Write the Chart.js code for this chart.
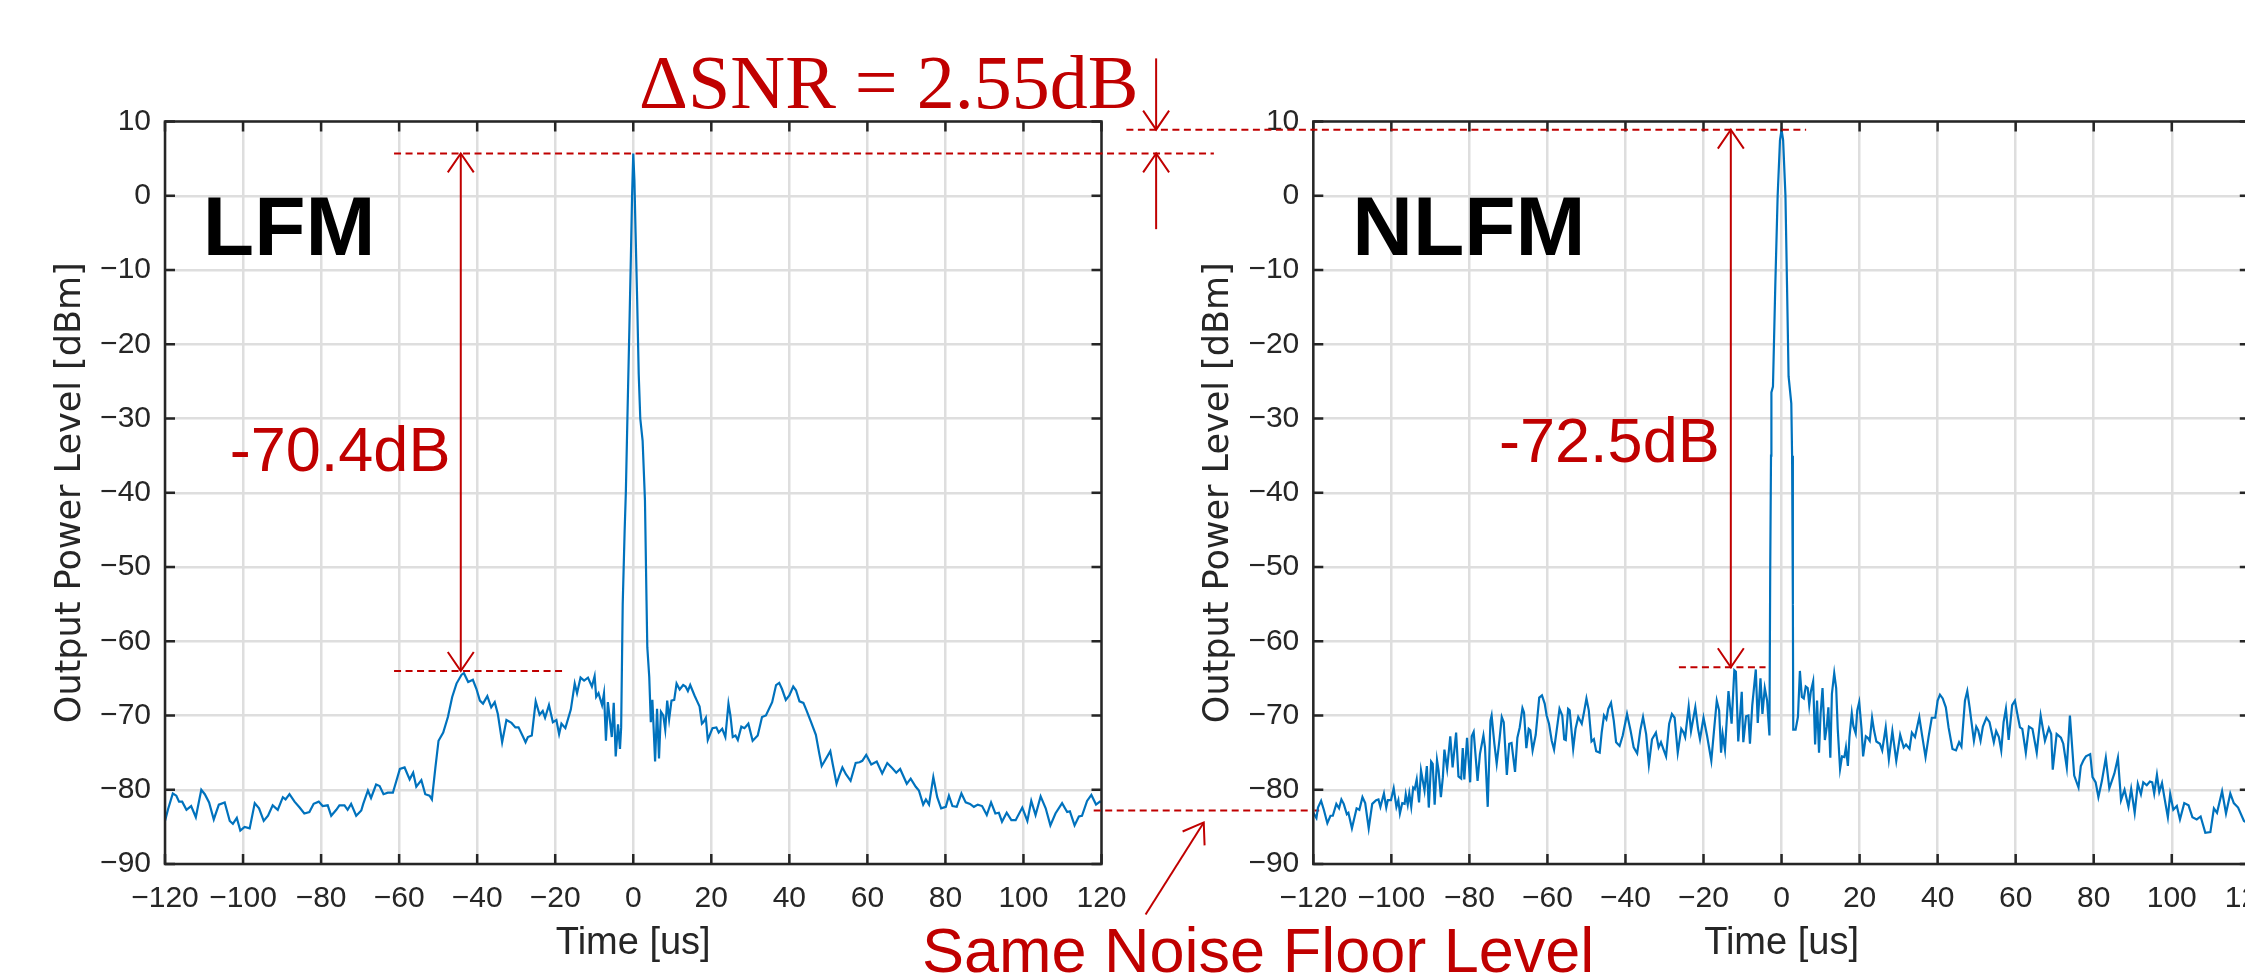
<!DOCTYPE html>
<html>
<head>
<meta charset="utf-8">
<script src="https://cdn.jsdelivr.net/npm/chart.js@4.4.1/dist/chart.umd.min.js"></script>
<style>
  html, body { margin: 0; padding: 0; background: #fff; overflow: hidden; }
  #wrap { position: relative; width: 2245px; height: 979px; overflow: hidden; }
  #wrap canvas { position: absolute; left: 0; top: 0; }
</style>
</head>
<body>
<div id="wrap">
  <canvas id="lfm" width="2245" height="979"></canvas>
  <canvas id="nlfm" width="2400" height="979"></canvas>
</div>
<script>
// axis ticks
const xTicks = [-120, -100, -80, -60, -40, -20, 0, 20, 40, 60, 80, 100, 120];
const yTicks = [-90, -80, -70, -60, -50, -40, -30, -20, -10, 0, 10];

// LFM trace
const lfmTime = [
  -120, -119.2, -118, -117.1, -116.4, -115.6, -114.5, -113.3, -112.1, -110.7, -109.8, -108.7, -107.5, -106.2,
  -104.7, -103.4, -102.6, -101.6, -100.7, -99.6, -98.3, -97, -95.9, -94.7, -93.6, -92.4, -91.1, -89.8, -89.1,
  -88.1, -86.8, -85.5, -84.3, -83, -81.9, -80.6, -79.6, -78.3, -77.4, -76.1, -75.3, -74, -73.2, -72.3, -71,
  -69.7, -69.2, -68, -67.2, -65.9, -65, -64, -62.9, -61.6, -59.8, -58.6, -57.3, -56.4, -55.6, -54.3, -53.3,
  -52.2, -51.6, -50.7, -49.9, -48.7, -47.5, -46.4, -45.3, -44, -43.4, -42.3, -41.1, -40.2, -39.3, -38.5, -37.4,
  -36.4, -35.5, -34.7, -33.6, -32.5, -31.2, -30.2, -29.4, -28.3, -27.6, -27, -26, -25, -24, -23.2, -22.6, -21.6,
  -20.6, -19.7, -19, -18.4, -17.4, -16, -15, -14.4, -13.5, -12.6, -11.6, -10.6, -9.9, -9.5, -8.9, -8, -7.5, -7,
  -6.5, -5.5, -5, -4.5, -3.9, -3.4, -3.1, -2.7, -2.2, -1.9, -1.5, -1, -0.6, -0.3, 0, 0.3, 0.6, 1, 1.4, 1.8, 2.4,
  3, 3.4, 3.6, 4.1, 4.5, 4.9, 5.6, 6.1, 6.6, 7.1, 7.7, 8.2, 8.7, 9.2, 9.8, 10.5, 11.1, 11.9, 12.8, 13.4, 14,
  14.6, 15.7, 16.3, 17, 17.6, 18, 18.6, 19.1, 20.3, 21.3, 21.9, 22.8, 23.6, 24.4, 24.9, 25.5, 26.2, 26.8, 27.7,
  28.5, 29.5, 30.6, 31.9, 33, 34, 35.6, 36.6, 37.4, 38.1, 39.1, 40, 41, 41.7, 42.6, 43.6, 44.4, 45.5, 46.8,
  47.7, 48.3, 49.2, 50.5, 51.1, 52.1, 52.8, 53.6, 54.5, 55.7, 57, 58, 58.7, 59.7, 61, 62.4, 63.8, 65.1, 66.4,
  67.4, 68.4, 70.1, 71.1, 72.4, 73.2, 74.3, 75, 75.8, 76.9, 77.9, 78.9, 80.1, 80.9, 81.8, 82.9, 84.1, 85.2,
  86.3, 87.3, 88.3, 89.4, 90.6, 91.7, 92.8, 93.7, 94.5, 95.7, 96.9, 98, 99.7, 101, 102, 103.1, 104.4, 105.7,
  106.9, 108.2, 109.9, 111.2, 111.9, 113.1, 114.2, 115, 116.3, 117.4, 118.6, 119.6, 120
];
const lfmLevel = [
  -84.2, -82.6, -80.5, -80.8, -81.6, -81.6, -82.7, -82.2, -83.7, -80, -80.6, -81.7, -84, -82,
  -81.7, -84.2, -84.6, -83.8, -85.5, -85, -85.2, -81.8, -82.5, -84.2, -83.5, -82.1, -82.7, -81, -81.3,
  -80.6, -81.6, -82.4, -83.2, -83, -81.9, -81.6, -82.2, -82.1, -83.5, -82.7, -82.1, -82.1, -82.7, -81.9, -83.5,
  -82.8, -81.9, -80.1, -81.1, -79.3, -79.5, -80.6, -80.4, -80.4, -77.2, -77, -78.6, -77.7, -79.6, -78.7, -80.6,
  -80.8, -81.3, -77, -73.4, -72.3, -70.2, -67.5, -65.7, -64.5, -64.3, -65.5, -65.2, -66.4, -68, -68.4, -67.4,
  -68.9, -68.2, -69.8, -73.6, -70.6, -71, -71.6, -71.6, -72.8, -73.6, -72.9, -72.7, -68.1, -69.9, -69.4, -70.3, -68.6,
  -70.9, -70.6, -72.5, -71.1, -71.7, -69.2, -65.7, -67, -64.9, -65.3, -64.9, -66.1, -64.7, -67.5, -67, -68.6, -67, -73.4,
  -68.2, -72.9, -68.3, -75.5, -71.2, -74.5, -71.6, -55, -45, -40, -30, -18, -8, 0, 5.7, 2, -5, -14, -24, -30, -33,
  -41, -54.5, -60.8, -64.8, -70.9, -67.9, -76.2, -69.1, -75.8, -69.5, -70, -71.9, -68, -70.5, -68, -67.9, -65.7, -66.5, -65.9, -66.1, -66.7,
  -65.9, -67.3, -68, -68.8, -71.1, -70.9, -70.3, -73.3, -71.7, -71.6, -72.3, -71.8, -72.9, -68.4, -70, -72.9, -72.7, -73.3, -71.5,
  -71.7, -71.1, -73.4, -72.7, -70.2, -70, -68.2, -65.9, -65.6, -66.4, -67.9, -67.3, -66.1, -66.6, -68.1, -68.3, -69.3, -70.8, -72.6,
  -75.2, -76.8, -76, -74.8, -76.5, -79.2, -78.1, -77, -77.9, -78.8, -76.4, -76.3, -76.1, -75.3, -76.6, -76.2, -77.8, -76.4, -77.1,
  -77.7, -77.2, -79.2, -78.5, -79.6, -80.1, -82, -81.3, -82, -78.3, -81, -82.5, -82.3, -80.8, -82.2, -82.3, -80.5, -81.7,
  -81.9, -82.3, -82, -82.2, -83.4, -81.7, -83.2, -83.1, -84.3, -83.1, -84.1, -84.1, -82.4, -84.2, -81.5, -83.4, -80.9, -82.5,
  -84.8, -83.2, -81.8, -83, -82.9, -84.8, -83.6, -83.5, -81.5, -80.7, -82, -81.6, -81.7
];

// NLFM trace
const nlfmTime = [
  -120, -119.2, -118.8, -118, -117.3, -116.4, -115.6, -115, -114.1, -113.4, -112.8, -112.2, -111.4, -111, -110.1,
  -108.9, -108.2, -107.4, -106.7, -105.8, -104.9, -103.9, -103.3, -102.8, -101.9, -101.3, -100.9, -100.1, -99.4,
  -98.7, -98.2, -97.8, -97.2, -96.6, -96.3, -95.8, -95.4, -94.9, -94.4, -94, -93.5, -92.9, -92.4, -91.5, -90.9,
  -90.4, -89.8, -89.4, -88.9, -88.3, -87.9, -87.3, -86.8, -86.4, -85.7, -84.9, -84.3, -83.4, -82.8, -82.1, -81.7,
  -81.3, -80.6, -79.8, -79.4, -78.9, -77.9, -77.3, -76.4, -76, -75.3, -74.6, -74.3, -73.6, -73, -72.3, -71.7,
  -71.2, -70.4, -69.8, -69.2, -68.3, -67.7, -67.1, -66.4, -66, -65.4, -64.8, -64.4, -63.8, -63, -62.1, -61.4,
  -60.7, -60.2, -59.6, -58.9, -58.3, -57.4, -56.9, -56.2, -55.7, -55.3, -54.7, -54.3, -53.4, -52.8, -52.1, -51.2,
  -50.6, -50, -49.4, -48.7, -48.1, -47.5, -46.6, -46.1, -45.5, -44.9, -44.4, -43.7, -43, -42.4, -41.5, -40.7,
  -39.6, -38.7, -37.9, -37, -36.2, -35.5, -34.7, -34, -33.2, -32.2, -31.5, -30.9, -30.3, -29.6, -28.8, -28.1,
  -27.4, -26.6, -25.7, -25.1, -24.7, -23.8, -23.2, -22.1, -21.4, -20.9, -20, -19.1, -18, -17.2, -16.6, -16,
  -15.5, -15.1, -14.5, -13.6, -12.8, -12.1, -11.7, -11.1, -10.2, -9.8, -9.1, -8.5, -8.1, -7.5, -6.6, -6.1,
  -5.4, -4.9, -4.3, -3.7, -3.1, -2.9, -2.7, -2.6, -2.2, -1.6, -1, -0.4, 0, 0.4, 1, 1.4, 1.8, 2.5, 2.7, 2.9, 3,
  3.6, 4.2, 4.7, 5.2, 5.7, 6.2, 6.7, 7.1, 7.5, 8.1, 8.6, 9.1, 9.6, 10, 10.5, 11.1, 11.6, 12, 12.5, 12.9, 13.5,
  14, 14.4, 15, 15.5, 16.1, 16.5, 17, 17.4, 18, 18.4, 19, 19.4, 19.9, 20.5, 20.9, 21.6, 22.1, 22.6, 23.2, 23.7,
  24.3, 25.2, 25.8, 26.7, 27.5, 28.4, 29.4, 30.4, 31.3, 31.9, 32.8, 33.4, 34.2, 35.3, 36, 36.9, 37.7, 38.5,
  39.4, 40, 40.6, 41.3, 42.1, 42.8, 43.8, 44.7, 45.5, 46.1, 47, 47.6, 48.2, 48.9, 49.3, 49.9, 50.4, 51, 51.6,
  52.5, 53.3, 54.4, 55, 55.7, 56.3, 56.9, 57.5, 58.2, 59.1, 59.8, 60.5, 61.1, 61.7, 62.6, 63.4, 64.3, 65.4,
  66.4, 67.5, 68.5, 69.1, 69.5, 70.5, 71.6, 72.2, 73.1, 73.9, 75, 76.1, 76.7, 77.4, 78, 79.1, 79.7, 80.5, 81.2,
  82.1, 83.1, 84, 85.3, 86.2, 87, 87.9, 88.9, 89.6, 90.5, 91.3, 92.1, 92.7, 93.6, 94.4, 95, 95.5, 96.2, 96.8,
  97.5, 98.1, 99, 99.6, 100.4, 101.3, 102.1, 103.2, 104.3, 105.3, 106.4, 107.4, 108.6, 109.9, 110.8, 111.6,
  112.9, 113.9, 115, 115.9, 117, 118.5, 119.5, 120
];
const nlfmLevel = [
  -83.1, -83.8, -82.4, -81.5, -82.7, -84.5, -83.5, -83.5, -81.9, -82.5, -81.3, -81.9, -83.3, -83.1, -85.2,
  -82.5, -82.7, -81, -81.8, -85.2, -81.9, -81.4, -81.3, -82.3, -80.5, -82.4, -81.4, -81.4, -79.8,
  -82.3, -81.4, -83.2, -81.8, -81.9, -80.6, -82, -80.5, -82.3, -79.7, -79.9, -78.6, -81.7, -77.4, -80.1, -76.8,
  -82.4, -76.2, -76.5, -82, -76, -77.4, -81, -78.3, -74.6, -77.2, -72.8, -77, -72.3, -78.2, -78.5, -74.4,
  -78.6, -73, -79, -72.8, -72.2, -78.8, -75.2, -72.7, -74.3, -82.3, -70.7, -70, -73.8, -76.5, -73.3, -70.2,
  -70.9, -78, -73.8, -73.7, -77.6, -73, -71.6, -69, -69.6, -74.4, -71.8, -72, -74.7, -72.6, -67.6, -67.3,
  -68.4, -70, -71.1, -73.4, -74.6, -71.1, -69.1, -70, -73.2, -73.3, -69.1, -69.3, -74.5, -71.8, -70.2, -71.1,
  -69.5, -67.7, -69.3, -73.5, -73.2, -74.8, -75, -72.3, -70, -70.5, -69.1, -68.3, -70.7, -73.6, -74.1, -72.7,
  -69.8, -72, -74.3, -75.1, -72, -70.2, -72.5, -76.6, -73.2, -72.3, -74.3, -73.6, -74.5, -75.5, -71.1, -69.8,
  -70.3, -75, -71.8, -72.3, -72.9, -68.8, -72.1, -68.9, -71.8, -73.2, -70.3, -72.7, -76.1, -71.4, -68, -69.3,
  -75, -72.5, -74.6, -66.7, -71.1, -63.9, -64.1, -73.5, -66.8, -73.6, -70.1, -70, -73.8, -68.6, -63.8, -71,
  -65, -69.8, -66.3, -68, -72.7, -50, -35, -26.5, -25.7, -12, 0, 7.5, 8.9, 7.5, 0, -12, -24.3, -28, -35, -55, -71.9,
  -71.9, -70.2, -64, -67.5, -67.7, -66.1, -66.3, -68.6, -66.8, -65.4, -73.9, -68, -75, -69.8, -66.3, -73.3, -71.5, -68.9, -75.7, -67.1, -64.3,
  -66.3, -71.8, -77.2, -75.5, -75.6, -74.3, -76.8, -72.9, -69.7, -71.4, -72.4, -69.3, -68.2, -71.8, -75.5, -72.8, -73, -73.4, -70.3, -72,
  -73.5, -73.8, -74.7, -71.6, -75.9, -72.1, -76.1, -72.6, -74.3, -73.9, -74.5, -72.3, -72.9, -70.2, -72.6, -75.6, -72.8, -70.3,
  -70.3, -68, -67.2, -67.7, -68.9, -71.6, -74.5, -74.7, -73.6, -74.2, -68, -66.7, -68.9, -71.8, -73.4, -71.5, -72, -73.4, -71.5,
  -70.3, -70.9, -73.6, -72.1, -72.9, -74.7, -70.9, -69.1, -73.3, -68.6, -68, -70, -71.6, -71.8, -75, -71.5, -71.8, -75,
  -70, -73.4, -71.7, -72.5, -77.3, -72.5, -73, -73.8, -77, -70, -78.1, -79.7, -76.8, -76, -75.5, -75.2, -78.3, -79, -81,
  -78.8, -75.7, -79.8, -77.8, -75.7, -81.4, -80, -82.3, -79.9, -83.1, -79.2, -80.6, -79, -79.4, -78.9, -79, -80.5, -78, -80.3,
  -79.1, -81, -83.7, -80.6, -82.7, -82.2, -84, -81.8, -82.1, -83.7, -84, -83.6, -85.8, -85.7, -82.5, -83.1,
  -80.2, -83.2, -80.5, -81.8, -82.4, -84.2, -84.5, -84
];

// levels marked by the red guides
const lfmPeak = 5.7, lfmSidelobe = -64.0;
const nlfmPeak = 8.9, nlfmSidelobe = -63.5;
const noiseFloor = -82.8;

const RED = '#C00000';
const BLUE = '#0072BD';
const INK = '#262626';
const GRID = '#dedede';
const SANS = '"Liberation Sans", Arial, Helvetica, sans-serif';

const fmtTick = v => (v < 0 ? '\u2212' + Math.abs(v) : String(v));

// box with inward tick marks, like the original plot
function drawFrame(chart) {
    const { ctx, chartArea: a, scales: { x, y } } = chart;
    ctx.save();
    ctx.strokeStyle = INK;
    ctx.lineWidth = 2.5;
    ctx.strokeRect(a.left, a.top, a.right - a.left, a.bottom - a.top);
    ctx.beginPath();
    xTicks.forEach(v => {
        const px = x.getPixelForValue(v);
        ctx.moveTo(px, a.bottom); ctx.lineTo(px, a.bottom - 10);
        ctx.moveTo(px, a.top); ctx.lineTo(px, a.top + 10);
    });
    yTicks.forEach(v => {
        const py = y.getPixelForValue(v);
        ctx.moveTo(a.left, py); ctx.lineTo(a.left + 10, py);
        ctx.moveTo(a.right, py); ctx.lineTo(a.right - 10, py);
    });
    ctx.stroke();
    ctx.restore();
}

function arrowHead(ctx, tx, ty, fx, fy) {
    const ang = Math.atan2(ty - fy, tx - fx), len = 23, spread = 0.6;
    ctx.beginPath();
    ctx.moveTo(tx - len * Math.cos(ang - spread), ty - len * Math.sin(ang - spread));
    ctx.lineTo(tx, ty);
    ctx.lineTo(tx - len * Math.cos(ang + spread), ty - len * Math.sin(ang + spread));
    ctx.stroke();
}

function arrow(ctx, x1, y1, x2, y2, both) {
    ctx.beginPath();
    ctx.moveTo(x1, y1);
    ctx.lineTo(x2, y2);
    ctx.stroke();
    arrowHead(ctx, x2, y2, x1, y1);
    if (both) arrowHead(ctx, x1, y1, x2, y2);
}

function dashed(ctx, x1, x2, y) {
    ctx.save();
    ctx.setLineDash([7, 4.5]);
    ctx.lineWidth = 2;
    ctx.beginPath();
    ctx.moveTo(x1, y);
    ctx.lineTo(x2, y);
    ctx.stroke();
    ctx.restore();
}

function label(ctx, text, px, py, font, color) {
    ctx.save();
    ctx.font = font;
    ctx.fillStyle = color;
    ctx.textAlign = 'left';
    ctx.textBaseline = 'alphabetic';
    ctx.fillText(text, px, py);
    ctx.restore();
}

// notes are placed in data units of the chart they belong to
function lfmNotes(chart) {
    const { ctx, scales: { x, y } } = chart;
    const X = v => x.getPixelForValue(v), Y = v => y.getPixelForValue(v);
    ctx.save();
    ctx.strokeStyle = RED;
    dashed(ctx, X(-61.3), X(148.8), Y(lfmPeak));
    dashed(ctx, X(-61.3), X(-17.7), Y(lfmSidelobe));
    dashed(ctx, X(118), X(176.1), Y(noiseFloor));
    ctx.lineWidth = 2;
    arrow(ctx, X(-44.2), Y(lfmSidelobe), X(-44.2), Y(lfmPeak), true);
    arrow(ctx, X(134), Y(18.5), X(134), Y(nlfmPeak), false);
    arrow(ctx, X(134), Y(-4.5), X(134), Y(lfmPeak), false);
    arrow(ctx, X(131.3), Y(-96.8), X(146.2), Y(-84.4), false);
    ctx.restore();
    label(ctx, 'LFM', X(-110.3), Y(-8), 'bold 84px ' + SANS, '#000');
    label(ctx, '-70.4dB', X(-103.4), Y(-37.1), '63px ' + SANS, RED);
    label(ctx, '\u0394SNR = 2.55dB', X(1.5), Y(11.8), '76px "Liberation Serif", "Times New Roman", serif', RED);
    label(ctx, 'Same Noise Floor Level', X(74), Y(-104.6), '63px ' + SANS, RED);
}

function nlfmNotes(chart) {
    const { ctx, scales: { x, y } } = chart;
    const X = v => x.getPixelForValue(v), Y = v => y.getPixelForValue(v);
    ctx.save();
    ctx.strokeStyle = RED;
    dashed(ctx, X(-167.9), X(6.3), Y(nlfmPeak));
    dashed(ctx, X(-26.3), X(-4.1), Y(nlfmSidelobe));
    ctx.lineWidth = 2;
    arrow(ctx, X(-13), Y(nlfmSidelobe), X(-13), Y(nlfmPeak), true);
    ctx.restore();
    label(ctx, 'NLFM', X(-110), Y(-8), 'bold 84px ' + SANS, '#000');
    label(ctx, '-72.5dB', X(-72.4), Y(-35.8), '63px ' + SANS, RED);
}

function makeChart(canvasId, time, level, pad, notes) {
    const ctx = document.getElementById(canvasId).getContext('2d');
    return new Chart(ctx, {
        type: 'line',
        data: {
            datasets: [{
                data: time.map((t, i) => ({ x: t, y: level[i] })),
                borderColor: BLUE,
                borderWidth: 2.2,
                pointRadius: 0,
                tension: 0,
                fill: false
            }]
        },
        options: {
            responsive: false,
            animation: false,
            devicePixelRatio: 1,
            layout: { padding: pad },
            scales: {
                x: {
                    type: 'linear',
                    min: -120,
                    max: 120,
                    afterBuildTicks: s => { s.ticks = xTicks.map(v => ({ value: v })); },
                    afterFit: s => { s.height = 115; },
                    ticks: {
                        callback: fmtTick,
                        autoSkip: false,
                        maxRotation: 0,
                        minRotation: 0,
                        padding: 17,
                        color: INK,
                        font: { family: SANS, size: 30 }
                    },
                    grid: { color: GRID, lineWidth: 2.5, drawTicks: false },
                    border: { display: false },
                    title: {
                        display: true,
                        text: 'Time [us]',
                        color: INK,
                        font: { family: SANS, size: 38 },
                        padding: { top: 0, bottom: 13 }
                    }
                },
                y: {
                    type: 'linear',
                    min: -90,
                    max: 10,
                    afterBuildTicks: s => { s.ticks = yTicks.map(v => ({ value: v })); },
                    afterFit: s => { s.width = 165; },
                    ticks: {
                        callback: fmtTick,
                        autoSkip: false,
                        padding: 14,
                        color: INK,
                        font: { family: SANS, size: 30 }
                    },
                    grid: { color: GRID, lineWidth: 2.5, drawTicks: false },
                    border: { display: false },
                    title: {
                        display: true,
                        text: 'Output Power Level [dBm]',
                        color: INK,
                        font: { family: '"DejaVu Sans", sans-serif', size: 35 },
                        padding: { top: 50, bottom: 0 }
                    }
                }
            },
            plugins: {
                legend: { display: false },
                tooltip: { enabled: false }
            }
        },
        plugins: [{
            id: 'frameAndNotes',
            afterDraw(chart) {
                drawFrame(chart);
                notes(chart);
            }
        }]
    });
}

makeChart('lfm', lfmTime, lfmLevel, { left: 0, right: 1143.5, top: 121.5, bottom: 0 }, lfmNotes);
makeChart('nlfm', nlfmTime, nlfmLevel, { left: 1148.3, right: 150.2, top: 121.5, bottom: 0 }, nlfmNotes);
</script>
</body>
</html>
